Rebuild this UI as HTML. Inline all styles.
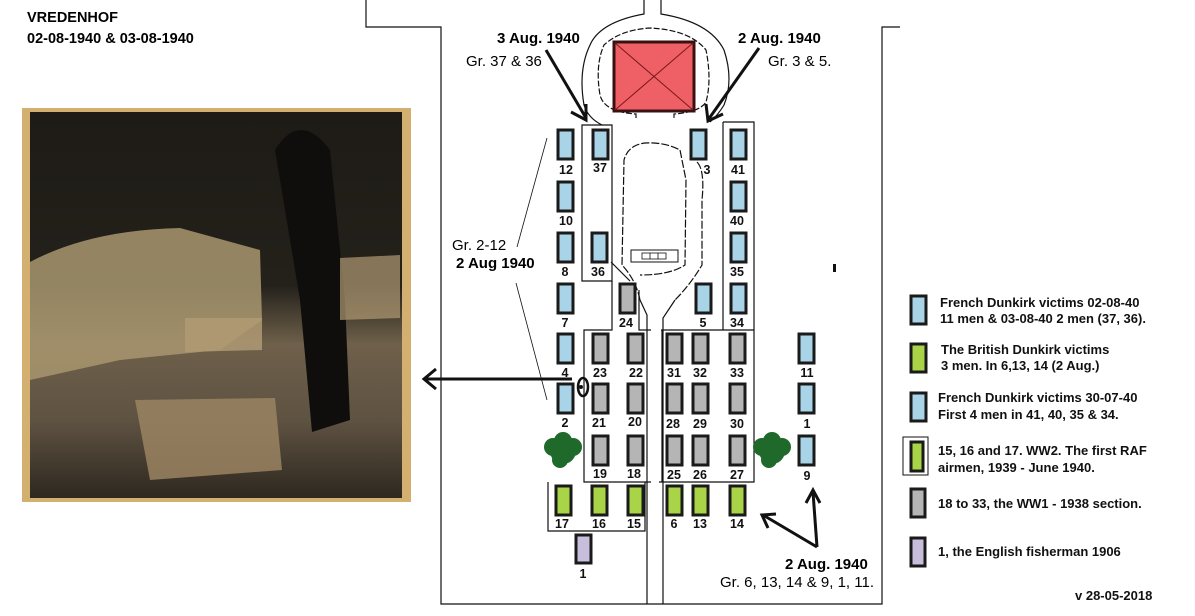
<!DOCTYPE html>
<html><head><meta charset="utf-8"><style>
html,body{margin:0;padding:0;background:#fff;}
svg{display:block;}
text{font-family:"Liberation Sans",Arial,sans-serif;}
.n{font-size:12.5px;font-weight:bold;fill:#111;text-anchor:middle;}
.lg{font-size:13px;font-weight:bold;fill:#111;}
</style></head><body>
<svg width="1195" height="616" viewBox="0 0 1195 616" xmlns="http://www.w3.org/2000/svg">
<defs>
<linearGradient id="ph" x1="0" y1="0" x2="0" y2="1">
<stop offset="0" stop-color="#1e1b16"/><stop offset="0.45" stop-color="#24211b"/>
<stop offset="0.6" stop-color="#6e604a"/><stop offset="0.8" stop-color="#5e5242"/><stop offset="1" stop-color="#2e281f"/>
</linearGradient>
</defs>
<rect width="1195" height="616" fill="#fff"/>
<text x="27" y="22" style="font-size:14.5px;font-weight:bold">VREDENHOF</text>
<text x="27" y="43" style="font-size:14.5px;font-weight:bold">02-08-1940 &amp; 03-08-1940</text>
<!-- photo -->
<rect x="22" y="108" width="389" height="394" fill="#d4b070"/>
<rect x="30" y="112" width="372" height="386" fill="url(#ph)"/>
<path d="M30 262 Q90 230 180 228 L260 250 L262 320 L220 350 L120 360 L30 380 Z" fill="#a8966f" opacity="0.85"/>
<path d="M135 400 L275 398 L282 470 L150 480 Z" fill="#9a8462" opacity="0.85"/>
<path d="M185 318 L262 318 L262 350 L185 352 Z" fill="#b09a74" opacity="0.85"/>
<path d="M275 150 Q300 110 330 150 L345 300 L350 420 L312 432 L300 300 Z" fill="#100e0c"/>
<path d="M340 258 L400 255 L400 318 L340 320 Z" fill="#b09a74" opacity="0.7"/>
<!-- outer boundary -->
<g fill="none" stroke="#111" stroke-width="1.2">
<path d="M366 0 V27 H441 V604 H882 V27 H900"/>
<path d="M644 0 V14 Q600 22 590 45 Q578 70 584 105 Q588 118 602 125"/>
<path d="M661 0 V14 Q710 22 724 50 Q734 80 724 105 Q718 115 710 122"/>
<path d="M636 118 V114 Q604 112 600 95 Q595 65 604 45 Q620 30 650 28 Q690 30 706 50 Q712 80 706 102 Q700 112 674 114 V118" stroke-dasharray="6 2"/>
<path d="M582 125 H612 V281 H582 Z"/>
<path d="M611 262 L630 281"/>
<path d="M612 281 V330 H584 V482 H651"/>
<path d="M548 482 V531 H645 V482"/>
<path d="M640 300 Q636 280 622 265 L624 160 Q628 145 645 143 Q665 142 680 150 L686 180 L685 265 Q670 275 640 275" stroke-dasharray="8 2"/>
<path d="M639 290 V330 H651"/>
<path d="M640 300 L647 315 V604"/>
<path d="M675 300 L663 318 V604"/>
<path d="M697 162 Q705 170 702 200 V265 Q690 285 675 300" stroke-dasharray="8 2"/>
<path d="M723 122 H754 V482 H659"/>
<path d="M723 122 V330"/>
<path d="M661 330 H754"/>
<path d="M662 330 V482"/>
<path d="M547 138 L517 247" stroke-width="0.8"/>
<path d="M516 283 L547 400" stroke-width="0.8"/>
</g>
<rect x="614" y="42" width="80" height="69" fill="#ee5f66" stroke="#3a1010" stroke-width="3"/>
<path d="M615 43 L693 110 M693 43 L615 110" stroke="#7a1a1a" stroke-width="1"/>
<rect x="631" y="250" width="47" height="12" fill="#fff" stroke="#111"/>
<rect x="642" y="253" width="24" height="6" fill="#fff" stroke="#111" stroke-width="0.8"/>
<path d="M650 253 V259 M658 253 V259" stroke="#111" stroke-width="0.8"/>
<g stroke="#111" stroke-width="3" fill="none">
<path d="M546 50 L586 118"/><path d="M571 112 L586 120 L586 104"/>
<path d="M759 48 L708 120"/><path d="M706 104 L708 121 L723 114"/>
<path d="M572 379 L426 379"/><path d="M436 369 L424 379 L436 389"/>
<path d="M817 547 L813 492"/><path d="M806 503 L813 490 L820 503"/>
<path d="M817 547 L763 515"/><path d="M768 528 L762 515 L776 514"/>
</g>
<ellipse cx="583" cy="387" rx="5" ry="9" fill="none" stroke="#111" stroke-width="2.5"/>
<circle cx="581" cy="387" r="2" fill="#111"/>
<rect x="833" y="264" width="3" height="8" fill="#111"/>
<g fill="#1f6a2a">
<circle cx="563" cy="451" r="13"/><circle cx="553" cy="447" r="9"/><circle cx="573" cy="447" r="9"/><circle cx="563" cy="441" r="9"/><circle cx="560" cy="460" r="8"/>
<circle cx="772" cy="451" r="13"/><circle cx="762" cy="447" r="9"/><circle cx="782" cy="447" r="9"/><circle cx="772" cy="441" r="9"/><circle cx="769" cy="460" r="8"/>
</g>
<g stroke="#1a1a1a" stroke-width="3">
<g fill="#a9d3e6">
<rect x="558" y="130" width="15" height="29"/><rect x="593" y="130" width="15" height="29"/><rect x="691" y="130" width="15" height="29"/><rect x="731" y="130" width="15" height="29"/>
<rect x="558" y="182" width="15" height="29"/><rect x="731" y="182" width="15" height="29"/>
<rect x="558" y="233" width="15" height="29"/><rect x="592" y="233" width="15" height="29"/><rect x="731" y="233" width="15" height="29"/>
<rect x="558" y="284" width="15" height="29"/><rect x="696" y="284" width="15" height="29"/><rect x="731" y="284" width="15" height="29"/>
<rect x="558" y="334" width="15" height="29"/><rect x="799" y="334" width="15" height="29"/>
<rect x="558" y="384" width="15" height="29"/><rect x="799" y="384" width="15" height="29"/>
<rect x="799" y="436" width="15" height="29"/>
</g>
<g fill="#b5b5b5">
<rect x="620" y="284" width="15" height="29"/>
<rect x="593" y="334" width="15" height="29"/><rect x="628" y="334" width="15" height="29"/><rect x="667" y="334" width="15" height="29"/><rect x="693" y="334" width="15" height="29"/><rect x="730" y="334" width="15" height="29"/>
<rect x="593" y="384" width="15" height="29"/><rect x="628" y="384" width="15" height="29"/><rect x="667" y="384" width="15" height="29"/><rect x="693" y="384" width="15" height="29"/><rect x="730" y="384" width="15" height="29"/>
<rect x="593" y="436" width="15" height="29"/><rect x="628" y="436" width="15" height="29"/><rect x="667" y="436" width="15" height="29"/><rect x="693" y="436" width="15" height="29"/><rect x="730" y="436" width="15" height="29"/>
</g>
<g fill="#a9d447">
<rect x="556" y="486" width="15" height="29"/><rect x="592" y="486" width="15" height="29"/><rect x="628" y="486" width="15" height="29"/><rect x="667" y="486" width="15" height="29"/><rect x="693" y="486" width="15" height="29"/><rect x="730" y="486" width="15" height="29"/>
</g>
<rect x="576" y="535" width="15" height="28" fill="#c8bedc"/>
</g>
<g class="n">
<text class="n" x="566" y="174">12</text><text class="n" x="600" y="172">37</text><text class="n" x="707" y="174">3</text><text class="n" x="738" y="174">41</text>
<text class="n" x="566" y="225">10</text><text class="n" x="737" y="225">40</text>
<text class="n" x="565" y="276">8</text><text class="n" x="598" y="276">36</text><text class="n" x="737" y="276">35</text>
<text class="n" x="565" y="327">7</text><text class="n" x="626" y="327">24</text><text class="n" x="703" y="327">5</text><text class="n" x="737" y="327">34</text>
<text class="n" x="565" y="377">4</text><text class="n" x="600" y="377">23</text><text class="n" x="636" y="377">22</text><text class="n" x="674" y="377">31</text><text class="n" x="700" y="377">32</text><text class="n" x="737" y="377">33</text><text class="n" x="807" y="377">11</text>
<text class="n" x="565" y="427">2</text><text class="n" x="599" y="427">21</text><text class="n" x="635" y="426">20</text><text class="n" x="673" y="428">28</text><text class="n" x="700" y="428">29</text><text class="n" x="737" y="428">30</text><text class="n" x="807" y="428">1</text>
<text class="n" x="600" y="478">19</text><text class="n" x="634" y="478">18</text><text class="n" x="674" y="479">25</text><text class="n" x="700" y="479">26</text><text class="n" x="737" y="479">27</text><text class="n" x="807" y="480">9</text>
<text class="n" x="562" y="528">17</text><text class="n" x="599" y="528">16</text><text class="n" x="634" y="528">15</text><text class="n" x="674" y="528">6</text><text class="n" x="700" y="528">13</text><text class="n" x="737" y="528">14</text>
<text class="n" x="583" y="578">1</text>
</g>
<text x="497" y="43" style="font-size:15px;font-weight:bold">3 Aug. 1940</text>
<text x="466" y="66" style="font-size:15px">Gr. 37 &amp; 36</text>
<text x="738" y="43" style="font-size:15px;font-weight:bold">2 Aug. 1940</text>
<text x="768" y="66" style="font-size:15px">Gr. 3 &amp; 5.</text>
<text x="452" y="250" style="font-size:15px">Gr. 2-12</text>
<text x="456" y="268" style="font-size:15px;font-weight:bold">2 Aug 1940</text>
<text x="785" y="569" style="font-size:15px;font-weight:bold">2 Aug. 1940</text>
<text x="720" y="587" style="font-size:15px">Gr. 6, 13, 14 &amp; 9, 1, 11.</text>
<g stroke="#1a1a1a" stroke-width="3">
<rect x="911" y="296" width="15" height="28" fill="#a9d3e6"/>
<rect x="911" y="344" width="15" height="28" fill="#a9d447"/>
<rect x="911" y="393" width="15" height="28" fill="#a9d3e6"/>
<rect x="911" y="442" width="12" height="29" fill="#a9d447"/>
<rect x="911" y="489" width="14" height="28" fill="#b5b5b5"/>
<rect x="911" y="538" width="14" height="28" fill="#c8bedc"/>
</g>
<rect x="903" y="437" width="25" height="38" fill="none" stroke="#111" stroke-width="1"/>
<text class="lg" x="940" y="307">French Dunkirk victims 02-08-40</text>
<text class="lg" x="940" y="323">11 men &amp; 03-08-40 2 men (37, 36).</text>
<text class="lg" x="941" y="354">The British Dunkirk victims</text>
<text class="lg" x="941" y="370">3 men. In 6,13, 14 (2 Aug.)</text>
<text class="lg" x="938" y="402">French Dunkirk victims 30-07-40</text>
<text class="lg" x="938" y="419">First 4 men in 41, 40, 35 &amp; 34.</text>
<text class="lg" x="938" y="455">15, 16 and 17. WW2. The first RAF</text>
<text class="lg" x="938" y="472">airmen, 1939 - June 1940.</text>
<text class="lg" x="938" y="508">18 to 33, the WW1 - 1938 section.</text>
<text class="lg" x="938" y="556">1, the English fisherman 1906</text>
<text class="lg" x="1075" y="600">v 28-05-2018</text>
</svg>
</body></html>
